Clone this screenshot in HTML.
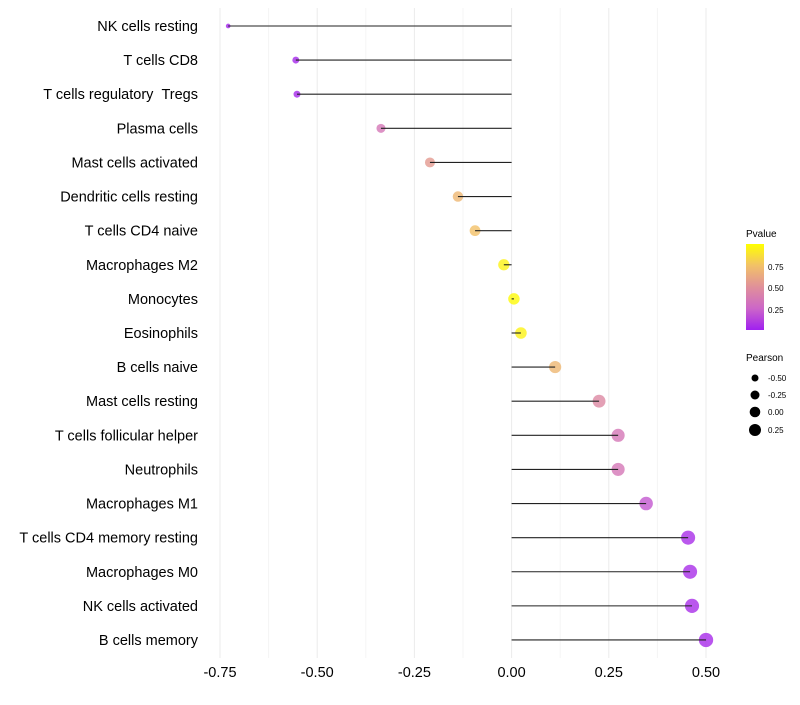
<!DOCTYPE html>
<html><head><meta charset="utf-8"><style>
body{margin:0;background:#fff;font-family:"Liberation Sans",sans-serif}
</style></head><body>
<svg id="chart" width="800" height="700" xmlns="http://www.w3.org/2000/svg" font-family="Liberation Sans, sans-serif">
<defs><linearGradient id="pg" x1="0" y1="1" x2="0" y2="0">
<stop offset="0" stop-color="#a020f0"/><stop offset="0.25" stop-color="#cc66c8"/><stop offset="0.5" stop-color="#e0909a"/><stop offset="0.75" stop-color="#f2c168"/><stop offset="1" stop-color="#ffff00"/></linearGradient></defs>
<g id="grid"></g>
<g id="marks"></g>
<g id="axes"></g>
<g>
<text x="746" y="237" font-size="10" fill="#000">Pvalue</text>
<rect x="746" y="244" width="18" height="86" fill="url(#pg)"/>
<text x="768" y="270" font-size="8">0.75</text>
<text x="768" y="291" font-size="8">0.50</text>
<text x="768" y="313" font-size="8">0.25</text>
</g>
<g>
<text x="746" y="361" font-size="10">Pearson</text>
<circle cx="755" cy="378" r="3.5" fill="#000"/>
<text x="768" y="381" font-size="8">-0.50</text>
<circle cx="755" cy="395" r="4.5" fill="#000"/>
<text x="768" y="398" font-size="8">-0.25</text>
<circle cx="755" cy="412" r="5.3" fill="#000"/>
<text x="768" y="415" font-size="8">0.00</text>
<circle cx="755" cy="430" r="6" fill="#000"/>
<text x="768" y="433" font-size="8">0.25</text>
</g>
</svg>
<script>
const categories=["NK cells resting","T cells CD8","T cells regulatory\u00a0\u00a0Tregs","Plasma cells","Mast cells activated","Dendritic cells resting","T cells CD4 naive","Macrophages M2","Monocytes","Eosinophils","B cells naive","Mast cells resting","T cells follicular helper","Neutrophils","Macrophages M1","T cells CD4 memory resting","Macrophages M0","NK cells activated","B cells memory"];
const pearson=[-0.729,-0.555,-0.552,-0.336,-0.210,-0.138,-0.094,-0.020,0.006,0.024,0.112,0.225,0.274,0.274,0.346,0.454,0.459,0.464,0.500];
const pvalues=[0.02,0.03,0.03,0.35,0.55,0.7,0.75,0.95,0.98,0.95,0.7,0.45,0.35,0.35,0.2,0.05,0.05,0.05,0.04];
const ticks=[-0.75,-0.5,-0.25,0,0.25,0.5];
const tickLabels=["-0.75","-0.50","-0.25","0.00","0.25","0.50"];
const NS="http://www.w3.org/2000/svg";
const xs=v=>511.6+v*388.8;
const ys=i=>26+i*34.11;
const rs=v=>Math.sqrt(Math.max(3,28+32*v))*1.08;
const stops=[[0,[160,32,240]],[0.25,[204,102,200]],[0.5,[224,144,154]],[0.75,[242,193,104]],[1,[255,255,0]]];
function col(p){for(let k=1;k<stops.length;k++){if(p<=stops[k][0]){const a=stops[k-1],b=stops[k];const t=(p-a[0])/(b[0]-a[0]);return "rgb("+a[1].map((c,j)=>Math.round(c+(b[1][j]-c)*t)).join(",")+")";}}return "rgb(255,255,0)";}
function mk(tag,attrs,parent){const e=document.createElementNS(NS,tag);for(const k in attrs)e.setAttribute(k,attrs[k]);parent.appendChild(e);return e;}
const grid=document.getElementById('grid'),marks=document.getElementById('marks'),axes=document.getElementById('axes');
for(let k=0;k<ticks.length;k++){
 const g=mk('line',{x1:xs(ticks[k]),x2:xs(ticks[k]),y1:8,y2:658,stroke:'#ebebeb','stroke-width':1},grid);
 
 
 if(k<ticks.length-1){const m=(ticks[k]+ticks[k+1])/2;const g2=mk('line',{x1:xs(m),x2:xs(m),y1:8,y2:658,stroke:'#f4f4f4','stroke-width':1},grid);
 
 }
 const t=mk('text',{x:xs(ticks[k]),y:677,'font-size':14.5,'text-anchor':'middle',fill:'#000'},axes);t.textContent=tickLabels[k];
 
 
}
categories.forEach((c,i)=>{
 const y=ys(i);
 const t=mk('text',{x:198,y:y+5,'font-size':14.5,'text-anchor':'end',fill:'#000'},axes);t.textContent=c;
 
 
 const d=mk('circle',{cx:xs(pearson[i]),cy:y,r:rs(pearson[i]),fill:col(pvalues[i]),'fill-opacity':0.8},marks);
 
 
 const l=mk('line',{x1:xs(0),x2:xs(pearson[i]),y1:y,y2:y,stroke:'#222','stroke-width':1.1},marks);
 
 
});
</script>
</body></html>
